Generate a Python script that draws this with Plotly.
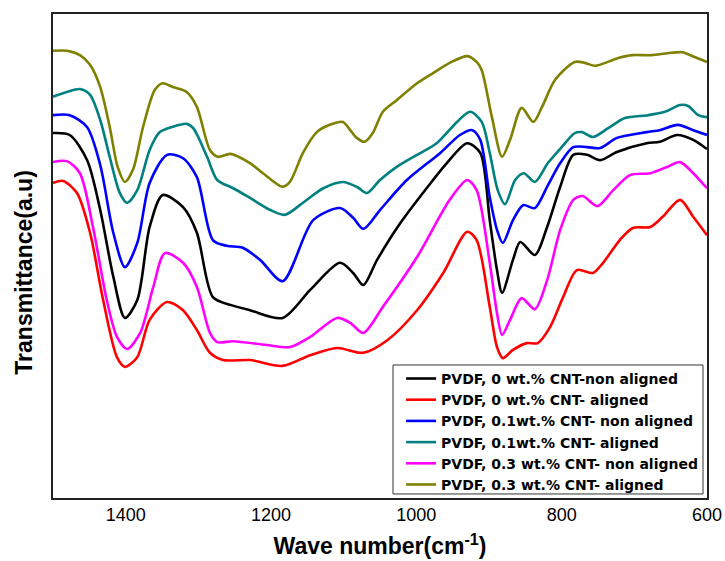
import plotly.graph_objects as go

# FTIR transmittance spectra (arbitrary units), wavenumber in cm^-1
wn_black = [1500, 1477, 1453, 1435, 1417, 1401, 1384, 1367, 1349, 1321, 1302, 1280, 1256, 1229, 1184,
            1146, 1105, 1087, 1073, 1054, 1022, 977, 958, 930, 912, 899, 889, 882, 867, 857, 837, 820,
            802, 784, 765, 747, 724, 683, 665, 641, 619, 600]
t_black = [75.4, 75.0, 69.8, 59.5, 45.7, 37.2, 40.9, 56.0, 62.6, 60.1, 54.8, 41.5, 39.9, 38.8, 37.2,
           43.0, 48.6, 46.5, 44.0, 49.2, 56.8, 65.7, 69.2, 73.3, 71.3, 57.4, 47.1, 42.4, 49.2, 52.9, 50.2, 56.0,
           64.3, 70.9, 70.9, 69.8, 71.5, 73.3, 73.6, 75.0, 74.0, 72.1]

wn_red = [1500, 1486, 1467, 1449, 1431, 1412, 1401, 1384, 1367, 1343, 1321, 1302, 1284, 1266, 1229,
          1184, 1146, 1109, 1073, 1040, 999, 963, 930, 917, 899, 889, 881, 867, 848, 833, 816, 798,
          779, 757, 743, 720, 702, 678, 661, 637, 619, 600]
t_red = [65.1, 65.5, 63.0, 54.8, 40.9, 29.1, 27.1, 29.1, 36.8, 40.5, 38.8, 34.7, 30.0, 28.5, 28.5,
         27.3, 29.5, 31.0, 30.0, 32.6, 38.8, 46.5, 55.0, 53.3, 39.5, 31.2, 28.9, 30.6, 32.0, 32.0, 35.3, 41.5,
         47.1, 46.5, 48.6, 53.3, 55.8, 56.0, 58.1, 61.6, 58.1, 54.3]

wn_blue = [1500, 1477, 1453, 1435, 1417, 1401, 1384, 1367, 1343, 1321, 1302, 1280, 1261, 1239, 1215,
           1184, 1142, 1105, 1087, 1073, 1050, 1013, 967, 940, 923, 912, 899, 889, 881, 867, 853, 837,
           820, 802, 784, 765, 747, 724, 683, 665, 640, 619, 600]
t_blue = [79.1, 79.1, 76.6, 68.8, 54.8, 47.7, 52.7, 65.1, 70.9, 70.2, 66.3, 53.3, 52.1, 51.7, 49.2,
          44.8, 57.4, 59.9, 57.9, 55.6, 59.5, 65.7, 71.3, 75.0, 76.0, 74.0, 62.2, 55.4, 52.7, 57.4, 60.5, 59.9,
          64.3, 69.2, 72.5, 72.5, 72.3, 74.4, 75.6, 76.0, 77.1, 76.0, 75.0]

wn_teal = [1500, 1481, 1463, 1449, 1435, 1422, 1408, 1398, 1384, 1367, 1353, 1335, 1316, 1307, 1288,
           1274, 1252, 1229, 1201, 1181, 1156, 1128, 1101, 1082, 1068, 1050, 1027, 999, 972, 944, 926,
           910, 899, 888, 878, 864, 852, 837, 819, 800, 782, 772, 757, 736, 713, 681, 658, 637, 626,
           612, 600]
t_teal = [82.9, 83.9, 84.5, 83.3, 78.1, 70.5, 63.0, 61.0, 63.6, 71.9, 75.6, 76.7, 77.3, 76.4, 70.5,
          65.7, 64.0, 62.0, 59.5, 58.5, 61.0, 64.0, 65.3, 64.3, 63.0, 65.7, 68.4, 70.9, 73.3, 77.7, 79.8,
          77.7, 71.3, 63.6, 60.7, 65.7, 67.1, 65.3, 69.2, 72.5, 75.4, 75.6, 74.6, 76.4, 78.5, 79.1, 79.8, 81.2, 81.0,
          79.1, 78.7]

wn_magenta = [1500, 1481, 1463, 1445, 1426, 1412, 1398, 1380, 1362, 1346, 1321, 1302, 1284, 1274, 1252,
              1206, 1174, 1146, 1109, 1091, 1073, 1046, 999, 954, 930, 917, 899, 889, 882, 871, 855, 837,
              820, 802, 784, 771, 751, 729, 706, 678, 655, 637, 619, 600]
t_magenta = [69.4, 69.6, 67.1, 56.0, 40.9, 33.3, 30.8, 34.1, 43.6, 50.6, 48.6, 43.6, 34.1, 32.2, 32.4,
             31.6, 31.2, 33.3, 37.2, 36.2, 34.1, 39.5, 49.8, 61.6, 65.7, 63.6, 48.6, 38.2, 33.7, 36.8, 41.3, 39.0,
             45.0, 55.4, 61.6, 62.4, 60.3, 63.6, 66.7, 67.1, 68.4, 69.4, 67.1, 64.0]

wn_olive = [1500, 1481, 1463, 1449, 1435, 1422, 1411, 1401, 1390, 1376, 1360, 1349, 1335, 1316, 1302,
            1284, 1273, 1256, 1229, 1211, 1184, 1174, 1156, 1137, 1119, 1101, 1091, 1082, 1071, 1060,
            1046, 1027, 999, 977, 954, 930, 917, 910, 896, 882, 871, 855, 839, 827, 809, 782, 768, 754,
            722, 703, 676, 654, 634, 617, 600]
t_olive = [92.4, 92.4, 91.5, 89.5, 84.9, 76.7, 68.4, 65.3, 67.8, 76.7, 84.3, 85.7, 84.9, 83.9, 80.8,
           71.9, 70.5, 71.1, 69.2, 67.1, 64.3, 65.3, 71.3, 75.6, 77.1, 77.7, 76.0, 74.4, 73.6, 75.4,
           79.8, 82.2, 85.7, 87.8, 89.9, 91.3, 90.1, 88.4, 78.7, 70.5, 74.0, 80.6, 77.7, 80.8, 86.4, 90.1, 89.9, 89.3,
           90.9, 91.5, 91.5, 91.9, 92.1, 91.1, 90.1]

series = [
    ("PVDF, 0 wt.% CNT-non aligned", wn_black, t_black, "#000000"),
    ("PVDF, 0 wt.% CNT- aligned", wn_red, t_red, "#FF0000"),
    ("PVDF, 0.1wt.% CNT- non aligned", wn_blue, t_blue, "#0000FF"),
    ("PVDF, 0.1wt.% CNT- aligned", wn_teal, t_teal, "#008080"),
    ("PVDF, 0.3 wt.% CNT- non aligned", wn_magenta, t_magenta, "#FF00FF"),
    ("PVDF, 0.3 wt.% CNT- aligned", wn_olive, t_olive, "#808000"),
]

FONT = "Liberation Sans, Arial, sans-serif"
LEGEND_FONT = "DejaVu Sans, Verdana, sans-serif"

fig = go.Figure()
for name, x, y, color in series:
    fig.add_trace(go.Scatter(
        x=x, y=y, mode="lines", name=name,
        line=dict(color=color, width=2.6, shape="spline", smoothing=0.8),
    ))

fig.update_layout(
    width=725, height=561,
    margin=dict(l=53, r=18, t=14, b=63, autoexpand=False),
    paper_bgcolor="white", plot_bgcolor="white",
    font=dict(family=FONT, color="black"),
    showlegend=True,
    # legend entries sit on a framed white panel drawn as a shape
    legend=dict(
        x=0.994, y=-0.006, xanchor="right", yanchor="bottom",
        bgcolor="rgba(0,0,0,0)", borderwidth=0,
        font=dict(family=LEGEND_FONT, size=14, weight="bold", color="black"),
        tracegroupgap=0,
    ),
    shapes=[dict(
        type="rect", xref="paper", yref="paper",
        x0=0.5199, x1=0.9939, y0=0.0083, y1=0.2748,
        fillcolor="white", line=dict(color="#333333", width=1), layer="above",
    )],
    annotations=[dict(
        text="<b>Transmittance(a.u)</b>", textangle=-90,
        xref="paper", yref="paper", x=-0.044, y=0.466,
        xanchor="center", yanchor="middle", showarrow=False,
        font=dict(family=FONT, size=23, color="black"),
    )],
)

fig.update_xaxes(
    range=[1500, 600], tickvals=[1400, 1200, 1000, 800, 600],
    showgrid=False, zeroline=False, ticks="", automargin=False,
    showline=True, linecolor="#222222", linewidth=1.5, mirror=True,
    tickfont=dict(family=FONT, size=18, color="black"),
    title=dict(text="Wave number(cm<sup>-1</sup>)", standoff=14,
               font=dict(family=FONT, size=23, weight="bold", color="black")),
)
fig.update_yaxes(
    range=[0, 100], showticklabels=False, automargin=False,
    showgrid=False, zeroline=False, ticks="",
    showline=True, linecolor="#222222", linewidth=1.5, mirror=True,
)

fig.write_html("out.html")
